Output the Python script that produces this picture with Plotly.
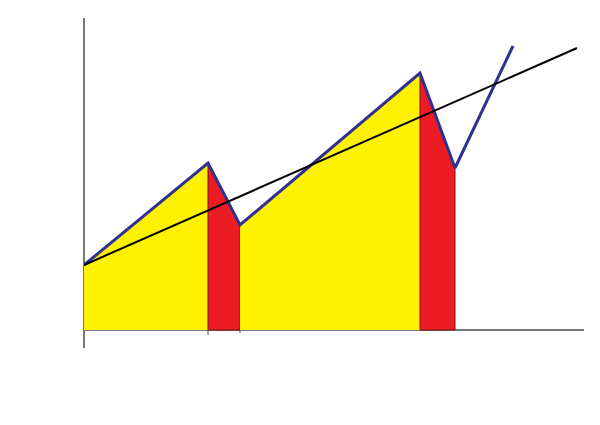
import plotly.graph_objects as go

# Data (x in horizontal units, y in vertical units)
x_pts = [0, 124, 156, 336, 371, 429]
y_pts = [65, 167, 105, 257, 162, 284]
trend_x = [0, 493]
trend_y = [65, 282]
seg_colors = ["#FFF200", "#ED1C24", "#FFF200", "#ED1C24"]
seg_lines = ["rgba(0,0,0,0)", "#7A1010", "rgba(0,0,0,0)", "#7A1010"]
tick_x = [124, 156]
tick_len = [5, 3]

fig = go.Figure()

for i, col in enumerate(seg_colors):
    xs = [x_pts[i], x_pts[i + 1], x_pts[i + 1], x_pts[i], x_pts[i]]
    ys = [y_pts[i], y_pts[i + 1], 0, 0, y_pts[i]]
    fig.add_trace(go.Scatter(x=xs, y=ys, mode="lines", fill="toself",
                             fillcolor=col, line=dict(color=seg_lines[i], width=1),
                             hoverinfo="skip", showlegend=False))

fig.add_trace(go.Scatter(x=x_pts, y=y_pts, mode="lines",
                         line=dict(color="#2E3192", width=3),
                         showlegend=False))
fig.add_trace(go.Scatter(x=trend_x, y=trend_y, mode="lines",
                         line=dict(color="#000000", width=2),
                         showlegend=False))

for tx, tl in zip(tick_x, tick_len):
    fig.add_shape(type="line", x0=tx, x1=tx, y0=0, y1=-tl,
                  line=dict(color="#555555", width=1))

fig.update_layout(
    width=600, height=425,
    margin=dict(l=76, r=24, t=10, b=85),
    paper_bgcolor="white", plot_bgcolor="white",
    xaxis=dict(range=[0, 500], showgrid=False, showticklabels=False, ticks="",
               zeroline=True, zerolinecolor="#777777", zerolinewidth=1.5,
               showline=False, fixedrange=True),
    yaxis=dict(range=[-18, 312], showgrid=False, showticklabels=False, ticks="",
               zeroline=True, zerolinecolor="#777777", zerolinewidth=1.5,
               showline=False, fixedrange=True),
)

fig.write_html("out.html")
